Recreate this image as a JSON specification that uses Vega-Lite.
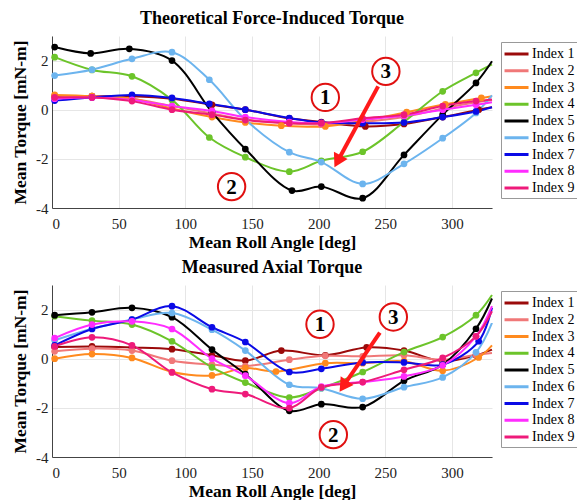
{
"$schema": "https://vega.github.io/schema/vega-lite/v6.json",
"padding": {"left": 11, "top": 10, "right": 0, "bottom": 0},
"spacing": 8,
"datasets": {
"theo": [
{"series":"Index 1","angle":2,"torque":0.55},{"series":"Index 1","angle":30,"torque":0.55},{"series":"Index 1","angle":60,"torque":0.55},{"series":"Index 1","angle":90,"torque":0.45},{"series":"Index 1","angle":120,"torque":0.2},{"series":"Index 1","angle":145,"torque":0.0},{"series":"Index 1","angle":178,"torque":-0.35},{"series":"Index 1","angle":202,"torque":-0.5},{"series":"Index 1","angle":235,"torque":-0.68},{"series":"Index 1","angle":264,"torque":-0.58},{"series":"Index 1","angle":293,"torque":-0.3},{"series":"Index 1","angle":320,"torque":0.0},{"series":"Index 1","angle":330,"torque":0.1},
{"series":"Index 2","angle":2,"torque":0.5},{"series":"Index 2","angle":30,"torque":0.55},{"series":"Index 2","angle":60,"torque":0.45},{"series":"Index 2","angle":90,"torque":0.15},{"series":"Index 2","angle":120,"torque":-0.15},{"series":"Index 2","angle":145,"torque":-0.4},{"series":"Index 2","angle":178,"torque":-0.55},{"series":"Index 2","angle":202,"torque":-0.6},{"series":"Index 2","angle":233,"torque":-0.5},{"series":"Index 2","angle":264,"torque":-0.3},{"series":"Index 2","angle":293,"torque":0.05},{"series":"Index 2","angle":318,"torque":0.3},{"series":"Index 2","angle":330,"torque":0.4},
{"series":"Index 3","angle":2,"torque":0.6},{"series":"Index 3","angle":30,"torque":0.55},{"series":"Index 3","angle":60,"torque":0.45},{"series":"Index 3","angle":90,"torque":0.05},{"series":"Index 3","angle":120,"torque":-0.3},{"series":"Index 3","angle":145,"torque":-0.52},{"series":"Index 3","angle":172,"torque":-0.65},{"series":"Index 3","angle":205,"torque":-0.68},{"series":"Index 3","angle":233,"torque":-0.45},{"series":"Index 3","angle":266,"torque":-0.1},{"series":"Index 3","angle":295,"torque":0.22},{"series":"Index 3","angle":322,"torque":0.48},{"series":"Index 3","angle":330,"torque":0.55},
{"series":"Index 4","angle":2,"torque":2.14},{"series":"Index 4","angle":30,"torque":1.62},{"series":"Index 4","angle":60,"torque":1.36},{"series":"Index 4","angle":90,"torque":0.4},{"series":"Index 4","angle":118,"torque":-1.13},{"series":"Index 4","angle":145,"torque":-1.93},{"series":"Index 4","angle":178,"torque":-2.52},{"series":"Index 4","angle":202,"torque":-2.08},{"series":"Index 4","angle":233,"torque":-1.71},{"series":"Index 4","angle":264,"torque":-0.5},{"series":"Index 4","angle":293,"torque":0.75},{"series":"Index 4","angle":318,"torque":1.5},{"series":"Index 4","angle":330,"torque":1.85},
{"series":"Index 5","angle":2,"torque":2.55},{"series":"Index 5","angle":29,"torque":2.29},{"series":"Index 5","angle":58,"torque":2.48},{"series":"Index 5","angle":90,"torque":2.0},{"series":"Index 5","angle":120,"torque":-0.1},{"series":"Index 5","angle":145,"torque":-1.6},{"series":"Index 5","angle":180,"torque":-3.29},{"series":"Index 5","angle":202,"torque":-3.13},{"series":"Index 5","angle":233,"torque":-3.6},{"series":"Index 5","angle":264,"torque":-1.84},{"series":"Index 5","angle":293,"torque":-0.2},{"series":"Index 5","angle":318,"torque":1.09},{"series":"Index 5","angle":330,"torque":1.97},
{"series":"Index 6","angle":2,"torque":1.39},{"series":"Index 6","angle":30,"torque":1.63},{"series":"Index 6","angle":60,"torque":2.07},{"series":"Index 6","angle":90,"torque":2.34},{"series":"Index 6","angle":118,"torque":1.22},{"series":"Index 6","angle":145,"torque":-0.4},{"series":"Index 6","angle":178,"torque":-1.73},{"series":"Index 6","angle":202,"torque":-2.13},{"series":"Index 6","angle":233,"torque":-3.02},{"series":"Index 6","angle":264,"torque":-2.2},{"series":"Index 6","angle":293,"torque":-1.16},{"series":"Index 6","angle":318,"torque":-0.13},{"series":"Index 6","angle":330,"torque":0.58},
{"series":"Index 7","angle":2,"torque":0.37},{"series":"Index 7","angle":30,"torque":0.5},{"series":"Index 7","angle":60,"torque":0.6},{"series":"Index 7","angle":90,"torque":0.48},{"series":"Index 7","angle":118,"torque":0.24},{"series":"Index 7","angle":145,"torque":0.0},{"series":"Index 7","angle":178,"torque":-0.34},{"series":"Index 7","angle":202,"torque":-0.52},{"series":"Index 7","angle":233,"torque":-0.55},{"series":"Index 7","angle":264,"torque":-0.52},{"series":"Index 7","angle":293,"torque":-0.3},{"series":"Index 7","angle":318,"torque":-0.07},{"series":"Index 7","angle":330,"torque":0.1},
{"series":"Index 8","angle":2,"torque":0.45},{"series":"Index 8","angle":30,"torque":0.5},{"series":"Index 8","angle":60,"torque":0.4},{"series":"Index 8","angle":90,"torque":0.15},{"series":"Index 8","angle":120,"torque":-0.05},{"series":"Index 8","angle":145,"torque":-0.3},{"series":"Index 8","angle":178,"torque":-0.5},{"series":"Index 8","angle":202,"torque":-0.55},{"series":"Index 8","angle":233,"torque":-0.4},{"series":"Index 8","angle":264,"torque":-0.25},{"series":"Index 8","angle":293,"torque":0.0},{"series":"Index 8","angle":318,"torque":0.2},{"series":"Index 8","angle":330,"torque":0.3},
{"series":"Index 9","angle":2,"torque":0.5},{"series":"Index 9","angle":30,"torque":0.5},{"series":"Index 9","angle":60,"torque":0.35},{"series":"Index 9","angle":90,"torque":0.0},{"series":"Index 9","angle":120,"torque":-0.2},{"series":"Index 9","angle":145,"torque":-0.42},{"series":"Index 9","angle":178,"torque":-0.55},{"series":"Index 9","angle":202,"torque":-0.55},{"series":"Index 9","angle":233,"torque":-0.35},{"series":"Index 9","angle":264,"torque":-0.2},{"series":"Index 9","angle":293,"torque":0.15},{"series":"Index 9","angle":318,"torque":0.35},{"series":"Index 9","angle":330,"torque":0.42}
],
"meas": [
{"series":"Index 1","angle":2,"torque":0.48},{"series":"Index 1","angle":30,"torque":0.5},{"series":"Index 1","angle":60,"torque":0.46},{"series":"Index 1","angle":90,"torque":0.39},{"series":"Index 1","angle":120,"torque":0.14},{"series":"Index 1","angle":145,"torque":-0.08},{"series":"Index 1","angle":172,"torque":0.33},{"series":"Index 1","angle":205,"torque":0.14},{"series":"Index 1","angle":236,"torque":0.46},{"series":"Index 1","angle":264,"torque":0.33},{"series":"Index 1","angle":293,"torque":-0.1},{"series":"Index 1","angle":318,"torque":0.14},{"series":"Index 1","angle":330,"torque":0.37},
{"series":"Index 2","angle":2,"torque":0.3},{"series":"Index 2","angle":30,"torque":0.41},{"series":"Index 2","angle":60,"torque":0.33},{"series":"Index 2","angle":90,"torque":-0.08},{"series":"Index 2","angle":120,"torque":-0.24},{"series":"Index 2","angle":145,"torque":-0.3},{"series":"Index 2","angle":178,"torque":-0.04},{"series":"Index 2","angle":205,"torque":0.12},{"series":"Index 2","angle":233,"torque":0.1},{"series":"Index 2","angle":264,"torque":0.14},{"series":"Index 2","angle":293,"torque":-0.04},{"series":"Index 2","angle":318,"torque":0.16},{"series":"Index 2","angle":330,"torque":0.23},
{"series":"Index 3","angle":2,"torque":0.0},{"series":"Index 3","angle":30,"torque":0.19},{"series":"Index 3","angle":60,"torque":0.03},{"series":"Index 3","angle":90,"torque":-0.54},{"series":"Index 3","angle":120,"torque":-0.68},{"series":"Index 3","angle":145,"torque":-0.38},{"series":"Index 3","angle":168,"torque":-0.52},{"series":"Index 3","angle":205,"torque":-0.18},{"series":"Index 3","angle":233,"torque":-0.18},{"series":"Index 3","angle":264,"torque":-0.1},{"series":"Index 3","angle":293,"torque":-0.49},{"series":"Index 3","angle":320,"torque":0.05},{"series":"Index 3","angle":330,"torque":0.54},
{"series":"Index 4","angle":2,"torque":1.73},{"series":"Index 4","angle":30,"torque":1.55},{"series":"Index 4","angle":60,"torque":1.39},{"series":"Index 4","angle":90,"torque":0.71},{"series":"Index 4","angle":120,"torque":-0.35},{"series":"Index 4","angle":145,"torque":-0.97},{"series":"Index 4","angle":178,"torque":-1.58},{"series":"Index 4","angle":202,"torque":-1.2},{"series":"Index 4","angle":233,"torque":-0.54},{"series":"Index 4","angle":264,"torque":0.27},{"series":"Index 4","angle":293,"torque":0.88},{"series":"Index 4","angle":318,"torque":1.77},{"series":"Index 4","angle":330,"torque":2.59},
{"series":"Index 5","angle":2,"torque":1.77},{"series":"Index 5","angle":30,"torque":1.89},{"series":"Index 5","angle":60,"torque":2.07},{"series":"Index 5","angle":90,"torque":1.69},{"series":"Index 5","angle":120,"torque":0.37},{"series":"Index 5","angle":145,"torque":-0.63},{"series":"Index 5","angle":178,"torque":-2.12},{"series":"Index 5","angle":202,"torque":-1.85},{"series":"Index 5","angle":233,"torque":-1.97},{"series":"Index 5","angle":264,"torque":-0.9},{"series":"Index 5","angle":293,"torque":-0.24},{"series":"Index 5","angle":318,"torque":1.22},{"series":"Index 5","angle":330,"torque":2.45},
{"series":"Index 6","angle":2,"torque":0.75},{"series":"Index 6","angle":30,"torque":1.22},{"series":"Index 6","angle":60,"torque":1.6},{"series":"Index 6","angle":90,"torque":1.86},{"series":"Index 6","angle":120,"torque":1.18},{"series":"Index 6","angle":145,"torque":0.33},{"series":"Index 6","angle":178,"torque":-1.06},{"series":"Index 6","angle":202,"torque":-1.2},{"series":"Index 6","angle":233,"torque":-1.63},{"series":"Index 6","angle":264,"torque":-1.16},{"series":"Index 6","angle":293,"torque":-0.76},{"series":"Index 6","angle":318,"torque":0.26},{"series":"Index 6","angle":330,"torque":1.46},
{"series":"Index 7","angle":2,"torque":0.54},{"series":"Index 7","angle":30,"torque":1.21},{"series":"Index 7","angle":60,"torque":1.59},{"series":"Index 7","angle":90,"torque":2.14},{"series":"Index 7","angle":120,"torque":1.28},{"series":"Index 7","angle":145,"torque":0.68},{"series":"Index 7","angle":178,"torque":-0.54},{"series":"Index 7","angle":202,"torque":-0.41},{"series":"Index 7","angle":233,"torque":-0.15},{"series":"Index 7","angle":264,"torque":-0.15},{"series":"Index 7","angle":293,"torque":-0.24},{"series":"Index 7","angle":320,"torque":0.71},{"series":"Index 7","angle":330,"torque":2.07},
{"series":"Index 8","angle":2,"torque":0.84},{"series":"Index 8","angle":30,"torque":1.39},{"series":"Index 8","angle":60,"torque":1.52},{"series":"Index 8","angle":90,"torque":1.21},{"series":"Index 8","angle":120,"torque":0.0},{"series":"Index 8","angle":145,"torque":-0.69},{"series":"Index 8","angle":178,"torque":-1.81},{"series":"Index 8","angle":202,"torque":-1.13},{"series":"Index 8","angle":233,"torque":-0.95},{"series":"Index 8","angle":264,"torque":-0.72},{"series":"Index 8","angle":293,"torque":-0.27},{"series":"Index 8","angle":318,"torque":0.91},{"series":"Index 8","angle":330,"torque":2.14},
{"series":"Index 9","angle":2,"torque":0.5},{"series":"Index 9","angle":30,"torque":0.87},{"series":"Index 9","angle":60,"torque":0.54},{"series":"Index 9","angle":90,"torque":-0.56},{"series":"Index 9","angle":120,"torque":-1.24},{"series":"Index 9","angle":145,"torque":-1.44},{"series":"Index 9","angle":178,"torque":-2.01},{"series":"Index 9","angle":202,"torque":-1.17},{"series":"Index 9","angle":233,"torque":-0.95},{"series":"Index 9","angle":264,"torque":-0.45},{"series":"Index 9","angle":293,"torque":0.03},{"series":"Index 9","angle":318,"torque":0.91},{"series":"Index 9","angle":330,"torque":1.93}
],
"theoNotes": [{"angle":205,"torque":0.5,"label":"1"},{"angle":134.7,"torque":-3.13,"label":"2"},{"angle":250.4,"torque":1.56,"label":"3"}],
"measNotes": [{"angle":201,"torque":1.4,"label":"1"},{"angle":211,"torque":-3.09,"label":"2"},{"angle":256,"torque":1.7,"label":"3"}],
"theoArrow": [{"angle":244.6,"torque":0.95,"angle2":214.2,"torque2":-2.1}],
"measArrow": [{"angle":245.9,"torque":1.06,"angle2":218.5,"torque2":-1.12}]
},
"resolve": {"scale": {"color": "independent", "x": "independent", "y": "independent"}, "legend": {"color": "independent"}},
"vconcat": [
{
"width": 440, "height": 172,
"title": {"text": "Theoretical Force-Induced Torque"},
"layer": [
{"data": {"name": "theo"},
 "mark": {"type": "line", "interpolate": "catmull-rom", "strokeWidth": 2},
 "encoding": {
  "x": {"field": "angle", "type": "quantitative", "scale": {"domain": [0, 330], "nice": false}, "axis": {"title": "Mean Roll Angle [deg]", "values": [0, 50, 100, 150, 200, 250, 300]}},
  "y": {"field": "torque", "type": "quantitative", "scale": {"domain": [-4, 3], "nice": false}, "axis": {"title": "Mean Torque [mN-m]", "values": [-4, -2, 0, 2], "labelExpr": "replace(datum.label, '−', '-')", "labelPadding": 4, "titlePadding": 6}},
  "color": {"field": "series", "type": "nominal", "scale": {"domain": ["Index 1","Index 2","Index 3","Index 4","Index 5","Index 6","Index 7","Index 8","Index 9"], "range": ["#9b0a0a","#f07878","#ff8a1e","#6cc42a","#000000","#6cb4ee","#0a0ae6","#ff2cff","#ee1a7a"]},
   "legend": {"title": null, "orient": "none", "legendX": 449, "legendY": 6}}
 }},
{"data": {"name": "theo"},
 "transform": [{"filter": "datum.angle < 325"}],
 "mark": {"type": "point", "filled": true, "size": 45, "opacity": 1},
 "encoding": {
  "x": {"field": "angle", "type": "quantitative"},
  "y": {"field": "torque", "type": "quantitative"},
  "color": {"field": "series", "type": "nominal", "legend": null}
 }},
{"data": {"name": "theoArrow"},
 "mark": {"type": "rule", "color": "#ff1a1a", "strokeWidth": 4},
 "encoding": {"x": {"field": "angle", "type": "quantitative"}, "y": {"field": "torque", "type": "quantitative"}, "x2": {"field": "angle2"}, "y2": {"field": "torque2"}}},
{"data": {"name": "theoArrow"},
 "mark": {"type": "point", "shape": "triangle-up", "filled": true, "color": "#ff1a1a", "size": 240, "angle": 208, "opacity": 1},
 "encoding": {"x": {"field": "angle2", "type": "quantitative"}, "y": {"field": "torque2", "type": "quantitative"}}},
{"data": {"name": "theoNotes"},
 "mark": {"type": "point", "shape": "circle", "size": 750, "fill": "white", "stroke": "#e01010", "strokeWidth": 2, "opacity": 1, "fillOpacity": 1},
 "encoding": {"x": {"field": "angle", "type": "quantitative"}, "y": {"field": "torque", "type": "quantitative"}}},
{"data": {"name": "theoNotes"},
 "mark": {"type": "text", "font": "Liberation Serif", "fontSize": 21, "fontWeight": "bold", "color": "black", "baseline": "middle", "align": "center", "dy": 1},
 "encoding": {"x": {"field": "angle", "type": "quantitative"}, "y": {"field": "torque", "type": "quantitative"}, "text": {"field": "label"}}}
]
},
{
"width": 440, "height": 172,
"title": {"text": "Measured Axial Torque"},
"layer": [
{"data": {"name": "meas"},
 "mark": {"type": "line", "interpolate": "catmull-rom", "strokeWidth": 2},
 "encoding": {
  "x": {"field": "angle", "type": "quantitative", "scale": {"domain": [0, 330], "nice": false}, "axis": {"title": "Mean Roll Angle [deg]", "values": [0, 50, 100, 150, 200, 250, 300]}},
  "y": {"field": "torque", "type": "quantitative", "scale": {"domain": [-4, 3], "nice": false}, "axis": {"title": "Mean Torque [mN-m]", "values": [-4, -2, 0, 2], "labelExpr": "replace(datum.label, '−', '-')", "labelPadding": 4, "titlePadding": 6}},
  "color": {"field": "series", "type": "nominal", "scale": {"domain": ["Index 1","Index 2","Index 3","Index 4","Index 5","Index 6","Index 7","Index 8","Index 9"], "range": ["#9b0a0a","#f07878","#ff8a1e","#6cc42a","#000000","#6cb4ee","#0a0ae6","#ff2cff","#ee1a7a"]},
   "legend": {"title": null, "orient": "none", "legendX": 449, "legendY": 6}}
 }},
{"data": {"name": "meas"},
 "transform": [{"filter": "datum.angle < 325"}],
 "mark": {"type": "point", "filled": true, "size": 45, "opacity": 1},
 "encoding": {
  "x": {"field": "angle", "type": "quantitative"},
  "y": {"field": "torque", "type": "quantitative"},
  "color": {"field": "series", "type": "nominal", "legend": null}
 }},
{"data": {"name": "measArrow"},
 "mark": {"type": "rule", "color": "#ff1a1a", "strokeWidth": 4},
 "encoding": {"x": {"field": "angle", "type": "quantitative"}, "y": {"field": "torque", "type": "quantitative"}, "x2": {"field": "angle2"}, "y2": {"field": "torque2"}}},
{"data": {"name": "measArrow"},
 "mark": {"type": "point", "shape": "triangle-up", "filled": true, "color": "#ff1a1a", "size": 240, "angle": 214, "opacity": 1},
 "encoding": {"x": {"field": "angle2", "type": "quantitative"}, "y": {"field": "torque2", "type": "quantitative"}}},
{"data": {"name": "measNotes"},
 "mark": {"type": "point", "shape": "circle", "size": 750, "fill": "white", "stroke": "#e01010", "strokeWidth": 2, "opacity": 1, "fillOpacity": 1},
 "encoding": {"x": {"field": "angle", "type": "quantitative"}, "y": {"field": "torque", "type": "quantitative"}}},
{"data": {"name": "measNotes"},
 "mark": {"type": "text", "font": "Liberation Serif", "fontSize": 21, "fontWeight": "bold", "color": "black", "baseline": "middle", "align": "center", "dy": 1},
 "encoding": {"x": {"field": "angle", "type": "quantitative"}, "y": {"field": "torque", "type": "quantitative"}, "text": {"field": "label"}}}
]
}
],
"config": {
 "view": {"stroke": null},
 "title": {"font": "Liberation Serif", "fontSize": 18, "fontWeight": "bold", "color": "#000", "offset": 8, "anchor": "middle"},
 "axis": {"labelFont": "Liberation Serif", "labelFontSize": 15, "labelColor": "#222", "titleFont": "Liberation Serif", "titleFontSize": 17.5, "titleFontWeight": "bold", "titleColor": "#000", "gridColor": "#e6e6e6", "domainColor": "#444", "ticks": false, "labelPadding": 8, "titlePadding": 2},
 "legend": {"labelFont": "Liberation Serif", "labelFontSize": 14, "labelColor": "#000", "symbolType": "M-1.13,0H2.07", "symbolStrokeWidth": 3, "symbolSize": 225, "symbolFillColor": "transparent", "strokeColor": "#999", "fillColor": "white", "padding": 3, "rowPadding": 0.75, "labelOffset": 10}
}
}
